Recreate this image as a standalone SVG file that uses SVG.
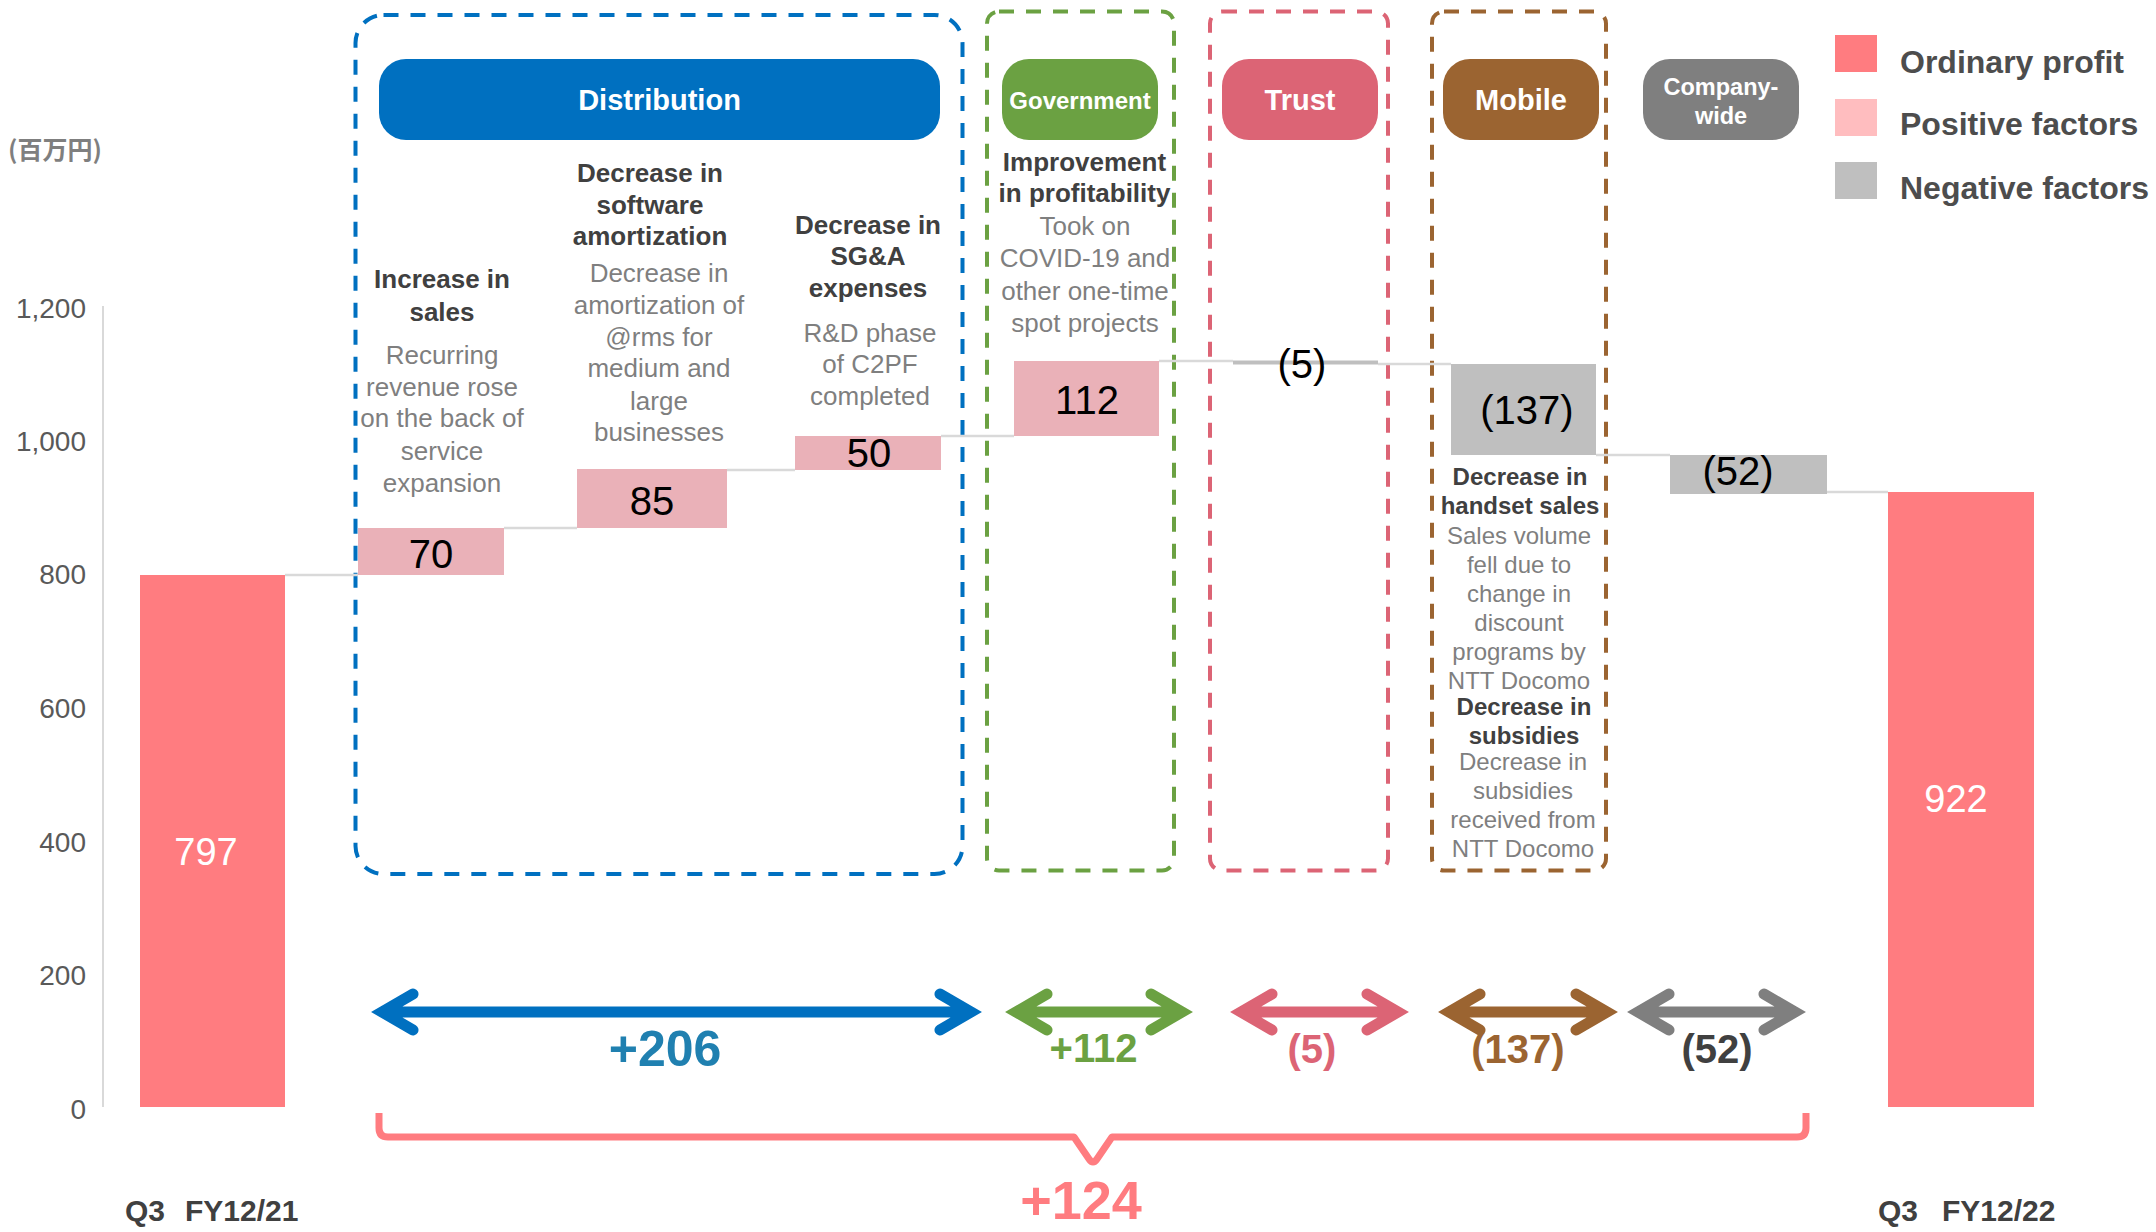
<svg xmlns="http://www.w3.org/2000/svg" width="2156" height="1232" viewBox="0 0 2156 1232">
<defs>
<style>
text{font-family:"Liberation Sans",Arial,"Noto Sans CJK JP",sans-serif}
.ax{font-size:28px;fill:#595959;text-anchor:end}
.hd{font-size:26px;font-weight:bold;fill:#404040;text-anchor:middle}
.ds{font-size:26px;fill:#7f7f7f;text-anchor:middle}
.hd24{font-size:24px;font-weight:bold;fill:#404040;text-anchor:middle}
.ds24{font-size:24px;fill:#7f7f7f;text-anchor:middle}
.val{font-size:40px;fill:#000;text-anchor:middle}
.tot{font-size:38px;fill:#fff;text-anchor:middle}
.pill{font-weight:bold;fill:#fff;text-anchor:middle}
.lg{font-size:32px;font-weight:bold;fill:#4d4d4d}
.cat{font-size:30px;font-weight:bold;fill:#404040}
.arl{font-weight:bold;text-anchor:middle}
.box{fill:none;stroke-width:4;stroke-dasharray:15 12}
.cn{stroke:#d9d9d9;stroke-width:2.5}
.arr{fill:none;stroke-width:11;stroke-linecap:round;stroke-linejoin:miter}
.op{fill:#ff7c80}
.pos{fill:#eab1b8}
.neg{fill:#bfbfbf}
</style>
</defs>
<rect width="2156" height="1232" fill="#fff"/>

<g id="axis">
<line x1="103" y1="306" x2="103" y2="1107" stroke="#d9d9d9" stroke-width="2"/>
<text class="ax" x="86" y="318">1,200</text>
<text class="ax" x="86" y="451">1,000</text>
<text class="ax" x="86" y="584">800</text>
<text class="ax" x="86" y="718">600</text>
<text class="ax" x="86" y="852">400</text>
<text class="ax" x="86" y="985">200</text>
<text class="ax" x="86" y="1119">0</text>
<text x="8" y="159" style="font-family:'Noto Sans CJK JP',sans-serif;font-size:25px;font-weight:bold;fill:#7f7f7f">(百万円)</text>
</g>

<g id="group-boxes">
<rect id="box-distribution" class="box" x="355.5" y="15" width="607" height="859" rx="28" stroke="#0070c0"/>
<rect id="box-government" class="box" x="987" y="11.5" width="187" height="859" rx="12" stroke="#6ba142"/>
<rect id="box-trust" class="box" x="1210" y="11.5" width="178" height="859" rx="12" stroke="#dc6475"/>
<rect id="box-mobile" class="box" x="1432" y="11.5" width="174" height="859" rx="12" stroke="#9b6431"/>
</g>

<g id="pill-distribution">
<rect x="379" y="59" width="561" height="81" rx="27" fill="#0070c0"/>
<text class="pill" x="659.5" y="110" style="font-size:29px">Distribution</text>
</g>
<g id="pill-government">
<rect x="1002" y="59" width="156" height="81" rx="27" fill="#6ba142"/>
<text class="pill" x="1080" y="108.5" style="font-size:24px">Government</text>
</g>
<g id="pill-trust">
<rect x="1222" y="59" width="156" height="81" rx="27" fill="#dc6475"/>
<text class="pill" x="1300" y="110" style="font-size:29px">Trust</text>
</g>
<g id="pill-mobile">
<rect x="1443" y="59" width="156" height="81" rx="27" fill="#9b6431"/>
<text class="pill" x="1521" y="110" style="font-size:29px">Mobile</text>
</g>
<g id="pill-companywide">
<rect x="1643" y="59" width="156" height="81" rx="27" fill="#7f7f7f"/>
<text class="pill" x="1721" y="95" style="font-size:23.5px">Company-</text>
<text class="pill" x="1721" y="124" style="font-size:23.5px">wide</text>
</g>

<g id="legend">
<rect x="1835" y="35" width="42" height="37" fill="#ff7c80"/>
<rect x="1835" y="99" width="42" height="37" fill="#ffbdbf"/>
<rect x="1835" y="162" width="42" height="37" fill="#bfbfbf"/>
<text class="lg" x="1900" y="72.5">Ordinary profit</text>
<text class="lg" x="1900" y="135">Positive factors</text>
<text class="lg" x="1900" y="199">Negative factors</text>
</g>

<g id="connectors">
<line class="cn" x1="285" y1="575" x2="358" y2="575"/>
<line class="cn" x1="504" y1="528" x2="577" y2="528"/>
<line class="cn" x1="727" y1="470" x2="795" y2="470"/>
<line class="cn" x1="941" y1="436" x2="1014" y2="436"/>
<line class="cn" x1="1159" y1="361" x2="1233" y2="361"/>
<line class="cn" x1="1378" y1="364" x2="1451" y2="364"/>
<line class="cn" x1="1596" y1="455" x2="1670" y2="455"/>
<line class="cn" x1="1827" y1="492" x2="1888" y2="492"/>
<path class="arr" stroke="#0070c0" d="M382,1012 H971 M413,994 L382,1012 L413,1030 M940,994 L971,1012 L940,1030"/>
<path class="arr" stroke="#6ba142" d="M1016,1012 H1182 M1047,994 L1016,1012 L1047,1030 M1151,994 L1182,1012 L1151,1030"/>
<path class="arr" stroke="#dc6475" d="M1241,1012 H1398 M1272,994 L1241,1012 L1272,1030 M1367,994 L1398,1012 L1367,1030"/>
<path class="arr" stroke="#9b6431" d="M1449,1012 H1607 M1480,994 L1449,1012 L1480,1030 M1576,994 L1607,1012 L1576,1030"/>
<path class="arr" stroke="#7f7f7f" d="M1638,1012 H1795 M1669,994 L1638,1012 L1669,1030 M1764,994 L1795,1012 L1764,1030"/>
<path fill="none" stroke="#ff7c80" stroke-width="7" stroke-linejoin="round" d="M379,1113 V1128 Q379,1137 388,1137 H1074 L1089,1159 Q1093,1165 1097,1159 L1112,1137 H1797 Q1806,1137 1806,1128 V1113"/>
</g>

<g id="bar-q3fy21">
<rect class="op" x="140" y="575" width="145" height="532"/>
<text class="tot" x="206" y="865">797</text>
<text class="cat" x="125" y="1221">Q3</text>
<text class="cat" x="185" y="1221">FY12/21</text>
</g>
<g id="bar-sales">
<rect class="pos" x="358" y="528" width="146" height="47"/>
<text class="val" x="431" y="568">70</text>
<text class="hd" x="442" y="288">Increase in</text>
<text class="hd" x="442" y="321">sales</text>
<text class="ds" x="442" y="364">Recurring</text>
<text class="ds" x="442" y="396">revenue rose</text>
<text class="ds" x="442" y="427">on the back of</text>
<text class="ds" x="442" y="460">service</text>
<text class="ds" x="442" y="492">expansion</text>
</g>
<g id="bar-software">
<rect class="pos" x="577" y="469" width="150" height="59"/>
<text class="val" x="652" y="515">85</text>
<text class="hd" x="650" y="182">Decrease in</text>
<text class="hd" x="650" y="214">software</text>
<text class="hd" x="650" y="245">amortization</text>
<text class="ds" x="659" y="282">Decrease in</text>
<text class="ds" x="659" y="314">amortization of</text>
<text class="ds" x="659" y="346">@rms for</text>
<text class="ds" x="659" y="377">medium and</text>
<text class="ds" x="659" y="410">large</text>
<text class="ds" x="659" y="441">businesses</text>
</g>
<g id="bar-sga">
<rect class="pos" x="795" y="436" width="146" height="34"/>
<text class="val" x="869" y="467">50</text>
<text class="hd" x="868" y="234">Decrease in</text>
<text class="hd" x="868" y="265">SG&amp;A</text>
<text class="hd" x="868" y="297">expenses</text>
<text class="ds" x="870" y="342">R&amp;D phase</text>
<text class="ds" x="870" y="373">of C2PF</text>
<text class="ds" x="870" y="405">completed</text>
</g>
<g id="bar-government">
<rect class="pos" x="1014" y="361" width="145" height="75"/>
<text class="val" x="1087" y="414">112</text>
<text class="hd" x="1084.5" y="171">Improvement</text>
<text class="hd" x="1084.5" y="202">in profitability</text>
<text class="ds" x="1085" y="235">Took on</text>
<text class="ds" x="1085" y="267">COVID-19 and</text>
<text class="ds" x="1085" y="300">other one-time</text>
<text class="ds" x="1085" y="332">spot projects</text>
</g>
<g id="bar-trust">
<rect class="neg" x="1233" y="360.5" width="145" height="4"/>
<text class="val" x="1302" y="378">(5)</text>
</g>
<g id="bar-mobile">
<rect class="neg" x="1451" y="364" width="145" height="91"/>
<text class="val" x="1527" y="424">(137)</text>
<text class="hd24" x="1520" y="485">Decrease in</text>
<text class="hd24" x="1520" y="513.5">handset sales</text>
<text class="ds24" x="1519" y="543.5">Sales volume</text>
<text class="ds24" x="1519" y="572.5">fell due to</text>
<text class="ds24" x="1519" y="601.5">change in</text>
<text class="ds24" x="1519" y="631">discount</text>
<text class="ds24" x="1519" y="660">programs by</text>
<text class="ds24" x="1519" y="689">NTT Docomo</text>
<text class="hd24" x="1524" y="715">Decrease in</text>
<text class="hd24" x="1524" y="743.5">subsidies</text>
<text class="ds24" x="1523" y="770">Decrease in</text>
<text class="ds24" x="1523" y="798.5">subsidies</text>
<text class="ds24" x="1523" y="827.5">received from</text>
<text class="ds24" x="1523" y="856.5">NTT Docomo</text>
</g>
<g id="bar-companywide">
<rect class="neg" x="1670" y="455" width="157" height="39"/>
<text class="val" x="1738" y="485">(52)</text>
</g>
<g id="bar-q3fy22">
<rect class="op" x="1888" y="492" width="146" height="615"/>
<text class="tot" x="1956" y="812">922</text>
<text class="cat" x="1878" y="1221">Q3</text>
<text class="cat" x="1942" y="1221">FY12/22</text>
</g>

<g id="arrow-labels">
<text class="arl" x="665" y="1066" style="font-size:50px;fill:#2080b0">+206</text>
<text class="arl" x="1093.5" y="1062" style="font-size:40px;fill:#6ba142">+112</text>
<text class="arl" x="1312" y="1063" style="font-size:40px;fill:#dc6475">(5)</text>
<text class="arl" x="1518" y="1063" style="font-size:40px;fill:#9b6431">(137)</text>
<text class="arl" x="1717" y="1063" style="font-size:40px;fill:#404040">(52)</text>
<text class="arl" x="1081" y="1219" style="font-size:54px;fill:#ff7c80">+124</text>
</g>
</svg>
